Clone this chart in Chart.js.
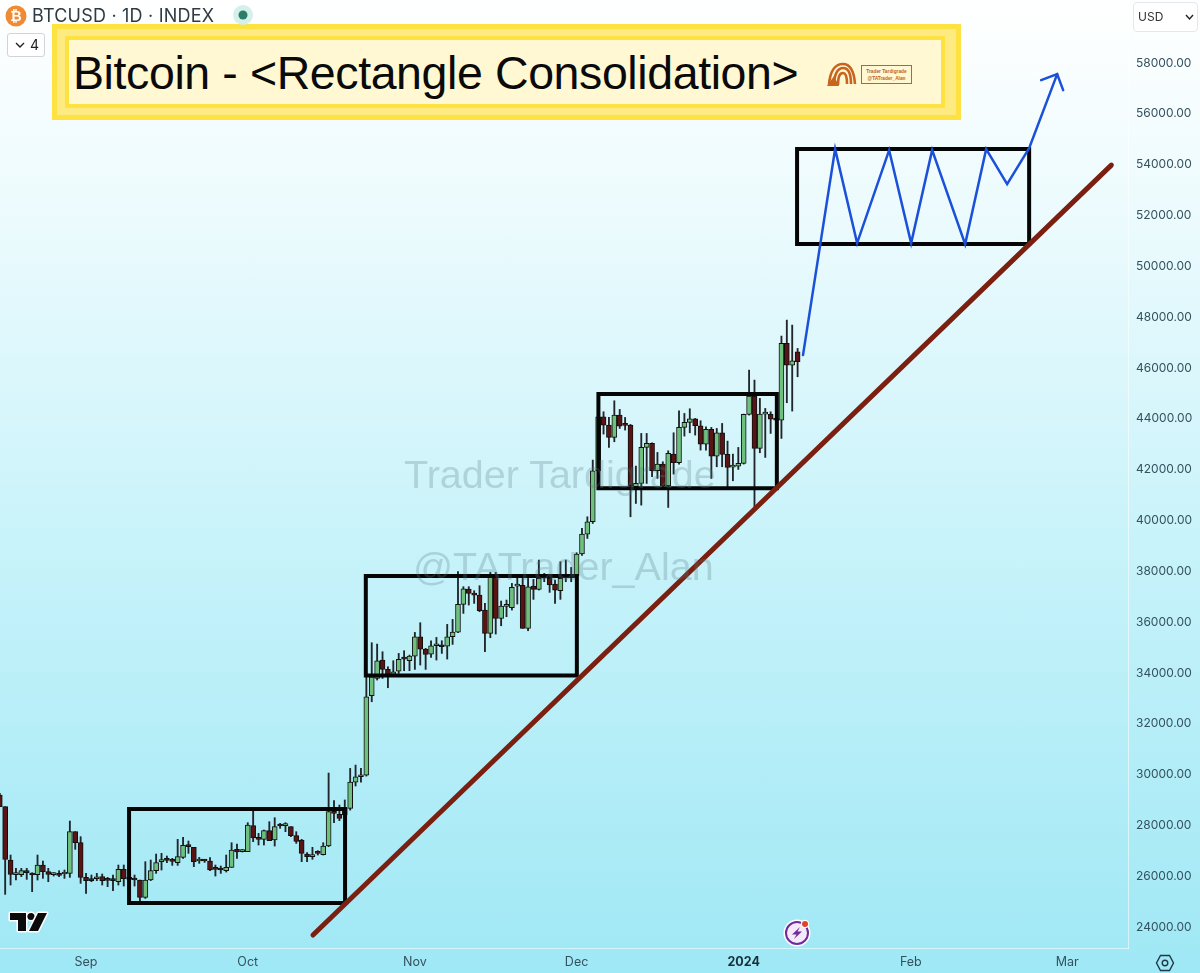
<!DOCTYPE html>
<html>
<head>
<meta charset="utf-8">
<title>BTCUSD</title>
<script src="https://cdn.jsdelivr.net/npm/chart.js@4"></script>
<style>
  html, body { margin: 0; padding: 0; background: #fff; }
  #wrap { position: relative; width: 1200px; height: 973px; overflow: hidden; font-family: "Inter", "Liberation Sans", sans-serif; }
  #chart { position: absolute; left: 0; top: 0; background: linear-gradient(#ffffff 0%, #e9fafd 25%, #c9f3fa 55%, #9fe8f5 100%); }
  .abs { position: absolute; white-space: nowrap; }
  #banner { left: 52px; top: 24px; width: 909px; height: 96px; box-sizing: border-box; background: #fdea80; border: 5px solid #fee242; }
  #bannerIn { left: 8px; top: 7px; width: 872px; height: 64px; background: #fff8d2; border: 4px solid #fee242; }
  #titleTxt { left: 73px; top: 44px; font: 46.5px "Liberation Sans", sans-serif; letter-spacing: -0.4px; color: #0a0a0a; line-height: 58px; }
  #sym { left: 32px; top: 5px; font: 18px "Inter", sans-serif; letter-spacing: 0.2px; color: #2f3a42; line-height: 22px; }
  #fold { left: 7px; top: 33px; width: 36px; height: 22px; border: 1px solid #d0d4d8; border-radius: 3px; font: 14px "Inter", sans-serif; color: #222; line-height: 22px; background: #fff; }
  #usd { left: 1133px; top: 2px; width: 63px; height: 28px; border: 1px solid #e2e8ec; border-radius: 4px; font: 12px "Inter", sans-serif; color: #333; line-height: 28px; background: #fff; }
  .wm { font: 39.5px "Liberation Sans", sans-serif; color: rgba(90,125,135,0.28); }
  #logoTxt { left: 861px; top: 65px; width: 51px; height: 19px; border: 1px solid #c0602a; font: bold 4.8px "Liberation Sans", sans-serif; color: #c0602a; text-align: center; line-height: 7px; padding-top: 2px; box-sizing: border-box; }
</style>
</head>
<body>
<div id="wrap">
  <canvas id="chart" width="1200" height="973"></canvas>

  <div class="abs wm" style="left:404px;top:452px">Trader Tardigrade</div>
  <div class="abs wm" style="left:413px;top:544px">@TATrader_Alan</div>

  <div class="abs" id="banner"><div class="abs" id="bannerIn"></div></div>
  <div class="abs" id="titleTxt">Bitcoin - &lt;Rectangle Consolidation&gt;</div>
  <svg class="abs" style="left:826px;top:62px" width="32" height="26" viewBox="0 0 32 26">
    <g fill="none" stroke="#c8641e" stroke-width="2.6">
      <path d="M3 23 C4 8 10 2 17 2 C24 2 28 9 29 22"/>
      <path d="M8 23 C8 12 12 6 17 6 C22 6 25 12 25 22"/>
      <path d="M12 23 C12 15 14 11 17 11 C20 11 21 15 21 22"/>
    </g>
    <path d="M1 24 L8 14 L13 24 Z" fill="#c8641e"/>
  </svg>
  <div class="abs" id="logoTxt">Trader Tardigrade<br>@TATrader_Alan</div>

  <svg class="abs" style="left:5px;top:5px" width="22" height="22" viewBox="0 0 22 22">
    <circle cx="11" cy="11" r="10.5" fill="#ee8b34"/>
    <text x="11" y="16" text-anchor="middle" font-family="Liberation Sans" font-weight="bold" font-size="14" fill="#fff">₿</text>
  </svg>
  <div class="abs" id="sym">BTCUSD · 1D · INDEX</div>
  <svg class="abs" style="left:233px;top:5px" width="20" height="20">
    <circle cx="10" cy="10" r="10" fill="#d5f0ea"/>
    <circle cx="10" cy="10" r="4.5" fill="#2c7d68"/>
  </svg>
  <div class="abs" id="fold">
    <svg class="abs" style="left:7px;top:7px" width="10" height="8"><path d="M1 2 L5 6 L9 2" fill="none" stroke="#222" stroke-width="1.4"/></svg>
    <span class="abs" style="left:22px;top:0">4</span>
  </div>
  <div class="abs" id="usd">
    <span class="abs" style="left:4px;top:0">USD</span>
    <svg class="abs" style="left:51px;top:11px" width="9" height="7"><path d="M1 1 L4.5 5 L8 1" fill="none" stroke="#222" stroke-width="1.4"/></svg>
  </div>

  <svg class="abs" style="left:6px;top:909px" width="44" height="26" viewBox="0 0 44 26">
    <g stroke="#fff" stroke-width="3" paint-order="stroke" fill="#0b0b0b" stroke-linejoin="round">
      <path d="M4 4 H20 V22 H12 V11 H4 Z"/>
      <circle cx="25" cy="7.5" r="3.6"/>
      <path d="M32 4 H41 L32 22 H23 Z"/>
    </g>
  </svg>
  <svg class="abs" style="left:783px;top:918px" width="30" height="30" viewBox="0 0 30 30">
    <circle cx="14" cy="15" r="13.5" fill="#fff"/>
    <circle cx="14" cy="15" r="11" fill="#f3e9f8" stroke="#6f2a9c" stroke-width="2"/>
    <path d="M17 9 L9 16.5 H13.5 L11 21 L19 13.5 H14.5 Z" fill="#6f2a9c"/>
    <circle cx="22" cy="6" r="4.2" fill="#fff"/>
    <circle cx="22" cy="6" r="3" fill="#e0432f"/>
  </svg>
  <svg class="abs" style="left:1155px;top:953px" width="20" height="20" viewBox="0 0 20 20">
    <path d="M5.5 2.5 H14.5 L18.5 10 L14.5 17.5 H5.5 L1.5 10 Z" fill="none" stroke="#1f3a46" stroke-width="1.4"/>
    <circle cx="10" cy="10" r="2.8" fill="none" stroke="#1f3a46" stroke-width="1.4"/>
  </svg>
</div>

<script>
// days are counted from 1 Sep 2023, first candle is 16 Aug
const firstDay = -16;

const opens = [
  29195,28735,26636,26059,26059,26216,26111,26059,26439,26177,
  26059,26085,26085,26111,27751,27318,25954,25888,25901,25980,
  25862,25849,25783,26269,25901,25901,25849,25167,25849,26216,
  26571,26676,26623,26531,26741,27227,27135,26597,26636,26597,
  26308,26308,26216,26348,27056,26964,26964,27988,27502,27450,
  27791,27423,28001,27988,27948,27594,27423,26872,26767,26925,
  26846,27187,28539,28434,28408,28670,29700,29914,29979,33100,
  33784,34506,34138,33942,34073,34571,34480,34663,35424,34939,
  34742,35070,35057,35057,35424,35608,36697,37300,37130,37064,
  36474,35555,37851,36146,36618,36566,37418,37445,35752,37418,
  37287,37760,37720,37497,37235,37760,37812,37812,38680,39462,
  39948,41955,44081,43753,43267,44146,43779,43753,41325,41457,
  42874,43031,41955,42218,41365,42611,42270,43661,43858,44002,
  43726,43005,43582,42532,43451,42598,42099,42139,42244,44172,
  44894,42834,44185,44172,43989,43950,46967,46114,46639
];
const highs = [
  29260,28735,26833,26308,26308,26308,26138,26833,26597,26308,
  26138,26216,26243,28171,27751,27555,26111,26046,26111,26085,
  25954,26046,26439,26439,26111,26046,25849,26571,26636,26872,
  26899,26794,26702,27450,27528,27384,27135,26741,26663,26728,
  26439,26400,26833,27318,27266,27056,28106,28578,27686,27817,
  28145,28302,28079,28106,27948,27751,27450,26925,27135,27004,
  27318,30060,28972,28801,29000,30242,30373,30242,33915,35188,
  35135,34834,34243,34480,34768,34873,34702,35595,35975,34965,
  35267,35398,35267,35910,36106,37983,37392,37392,37235,37432,
  36736,37956,37956,36828,36867,37523,37812,37720,37720,37681,
  38442,37917,37851,37655,38376,38442,38153,38730,39685,40145,
  42375,44487,44277,44054,44710,44369,44054,43779,42139,43425,
  43425,43057,42677,42309,42742,43451,44317,44212,44395,44015,
  43923,43687,43661,43621,43818,43123,42611,42874,44185,45917,
  45524,44802,44409,44277,44212,47256,47885,47689,46770
];
const lows = [
  28735,25285,25652,25849,25980,25875,25390,25849,25915,25783,
  26006,25980,25915,25954,27056,25718,25324,25783,25823,25652,
  25587,25429,25652,25613,25783,25613,24957,25127,25823,26111,
  26243,26531,26426,26426,26702,26899,26374,26505,26544,26216,
  26006,26111,26164,26348,26702,26951,26964,27358,27227,27227,
  27397,27187,27883,27751,27555,27292,26571,26571,26663,26833,
  26833,27161,28106,28184,28300,28600,29550,29700,29940,32866,
  33719,33784,33417,33915,33981,34086,34086,34138,34309,34138,
  34611,34506,34768,34545,35122,35582,36343,36671,36736,36408,
  34834,35385,35529,35857,36211,36474,36710,35752,35660,36894,
  37261,37589,37169,36736,36894,37589,37589,37786,38620,39292,
  39882,41800,43398,42874,43097,43621,43556,40145,40669,40604,
  41457,41719,41653,41325,40512,41824,42218,43320,43451,43359,
  42769,42769,41653,42113,42113,41325,41562,42008,42218,44146,
  40538,42664,42480,43425,43687,43228,44632,44304,45655
];
const closes = [
  28735,26660,26072,26111,26216,26138,26046,26439,26177,26072,
  26085,26033,26125,27751,27318,25954,25823,25823,25967,25823,
  25836,25823,26269,25901,25875,25849,25167,25849,26216,26531,
  26636,26623,26584,26767,27213,27161,26571,26636,26597,26243,
  26269,26243,26348,27030,26951,26990,28014,27502,27450,27791,
  27397,27948,27974,28014,27594,27371,26899,26767,26846,26899,
  27187,28539,28473,28276,28670,29700,29914,29979,33063,33850,
  34480,34138,33942,34047,34532,34545,34663,35424,34939,34729,
  35070,35096,35031,35424,35608,36697,37313,37130,37064,36448,
  35555,37851,36146,36631,36644,37366,37445,35752,37392,37287,
  37720,37733,37458,37261,37720,37812,37760,38678,39462,39948,
  41955,44081,43753,43267,44146,43713,43740,41365,41457,42874,
  43031,41955,42218,41365,42637,42270,43661,43858,44002,43726,
  43005,43582,42532,43451,42598,42086,42139,42244,44172,44894,
  42834,44185,44212,43989,43950,46967,46114,46285,46246
];

const monthDays = [0, 30, 61, 91, 122, 153, 182];
const monthLabels = ["Sep", "Oct", "Nov", "Dec", "2024", "Feb", "Mar"];
const priceTicks = [24000,26000,28000,30000,32000,34000,36000,38000,40000,42000,44000,46000,48000,50000,52000,54000,56000,58000];

// consolidation boxes: [fromDay, toDay, bottom, top]
const boxes = [
  [7.98, 48.05, 24944, 28643],
  [51.9, 91.05, 33897, 37812],
  [95.05, 128.15, 41263, 44974],
  [131.9, 174.95, 50876, 54614]
];
const trendDays = [42.1, 190.2];
const trendPrices = [23685, 53985];
const pathDays = [133, 138.96, 143.04, 148.98, 153.06, 156.96, 163.08, 166.98, 170.87, 174.95, 180.15];
const pathPrices = [46508, 54614, 50915, 54574, 50915, 54574, 50876, 54614, 53237, 54653, 57566];
const arrowDays = [177.18, 180.15, 181.26];
const arrowPrices = [57329, 57566, 56936];

const days = opens.map((_, i) => firstDay + i);
const xy = (xs, ys) => xs.map((x, i) => ({ x: x, y: ys[i] }));
const lineSet = (points, color, width, order, cap) => ({
  type: "line",
  data: points,
  borderColor: color,
  borderWidth: width,
  borderCapStyle: cap || "butt",
  borderJoinStyle: "miter",
  pointRadius: 0,
  tension: 0,
  fill: false,
  order: order
});

const boxSets = boxes.map(b => lineSet(
  xy([b[0], b[1], b[1], b[0], b[0]], [b[3], b[3], b[2], b[2], b[3]]),
  "#050505", 4, 2, "square"
));

new Chart(document.getElementById("chart"), {
  data: {
    datasets: [
      lineSet(xy(pathDays, pathPrices), "#1b50d9", 2.5, 1, "round"),
      lineSet(xy(arrowDays, arrowPrices), "#1b50d9", 2.5, 1, "round"),
      lineSet(xy(trendDays, trendPrices), "#7b2010", 5, 1, "round"),
      ...boxSets,
      {
        type: "bar",
        data: days.map((d, i) => ({ x: d, y: [opens[i], closes[i]] })),
        backgroundColor: days.map((d, i) => closes[i] >= opens[i] ? "#6fbf7e" : "#5a1414"),
        borderColor: "#101010",
        borderWidth: 1,
        borderSkipped: false,
        barThickness: 5,
        minBarLength: 2,
        grouped: false,
        order: 3
      },
      {
        type: "bar",
        data: days.map((d, i) => ({ x: d, y: [lows[i], highs[i]] })),
        backgroundColor: "#20262a",
        borderWidth: 0,
        barThickness: 1.2,
        grouped: false,
        order: 4
      }
    ]
  },
  options: {
    responsive: false,
    animation: false,
    layout: { padding: 0 },
    plugins: { legend: { display: false }, tooltip: { enabled: false } },
    scales: {
      x: {
        type: "linear",
        min: -15.96,
        max: 193.29,
        offset: false,
        grid: { display: false, drawTicks: false },
        border: { display: true, color: "rgba(255,255,255,0.55)" },
        afterBuildTicks: s => { s.ticks = monthDays.map(v => ({ value: v })); },
        afterFit: s => { s.height = 25; s.paddingLeft = 0; s.paddingRight = 0; },
        ticks: {
          autoSkip: false,
          maxRotation: 0,
          padding: 7,
          color: ctx => ctx.index === 4 ? "#17303a" : "#34525e",
          font: ctx => ({ family: "Inter", size: 12.5, weight: ctx.index === 4 ? "bold" : "normal" }),
          callback: (v, i) => monthLabels[i]
        }
      },
      y: {
        type: "linear",
        position: "right",
        min: 23174,
        max: 60482,
        grid: { display: false, drawTicks: false },
        border: { display: true, color: "rgba(255,255,255,0.55)" },
        afterBuildTicks: s => { s.ticks = priceTicks.map(v => ({ value: v })); },
        afterFit: s => { s.width = 72; s.paddingTop = 0; s.paddingBottom = 0; },
        ticks: {
          autoSkip: false,
          padding: 8,
          color: "#34525e",
          font: { family: "Inter", size: 12 },
          callback: v => v.toFixed(2)
        }
      }
    }
  }
});
</script>
</body>
</html>
